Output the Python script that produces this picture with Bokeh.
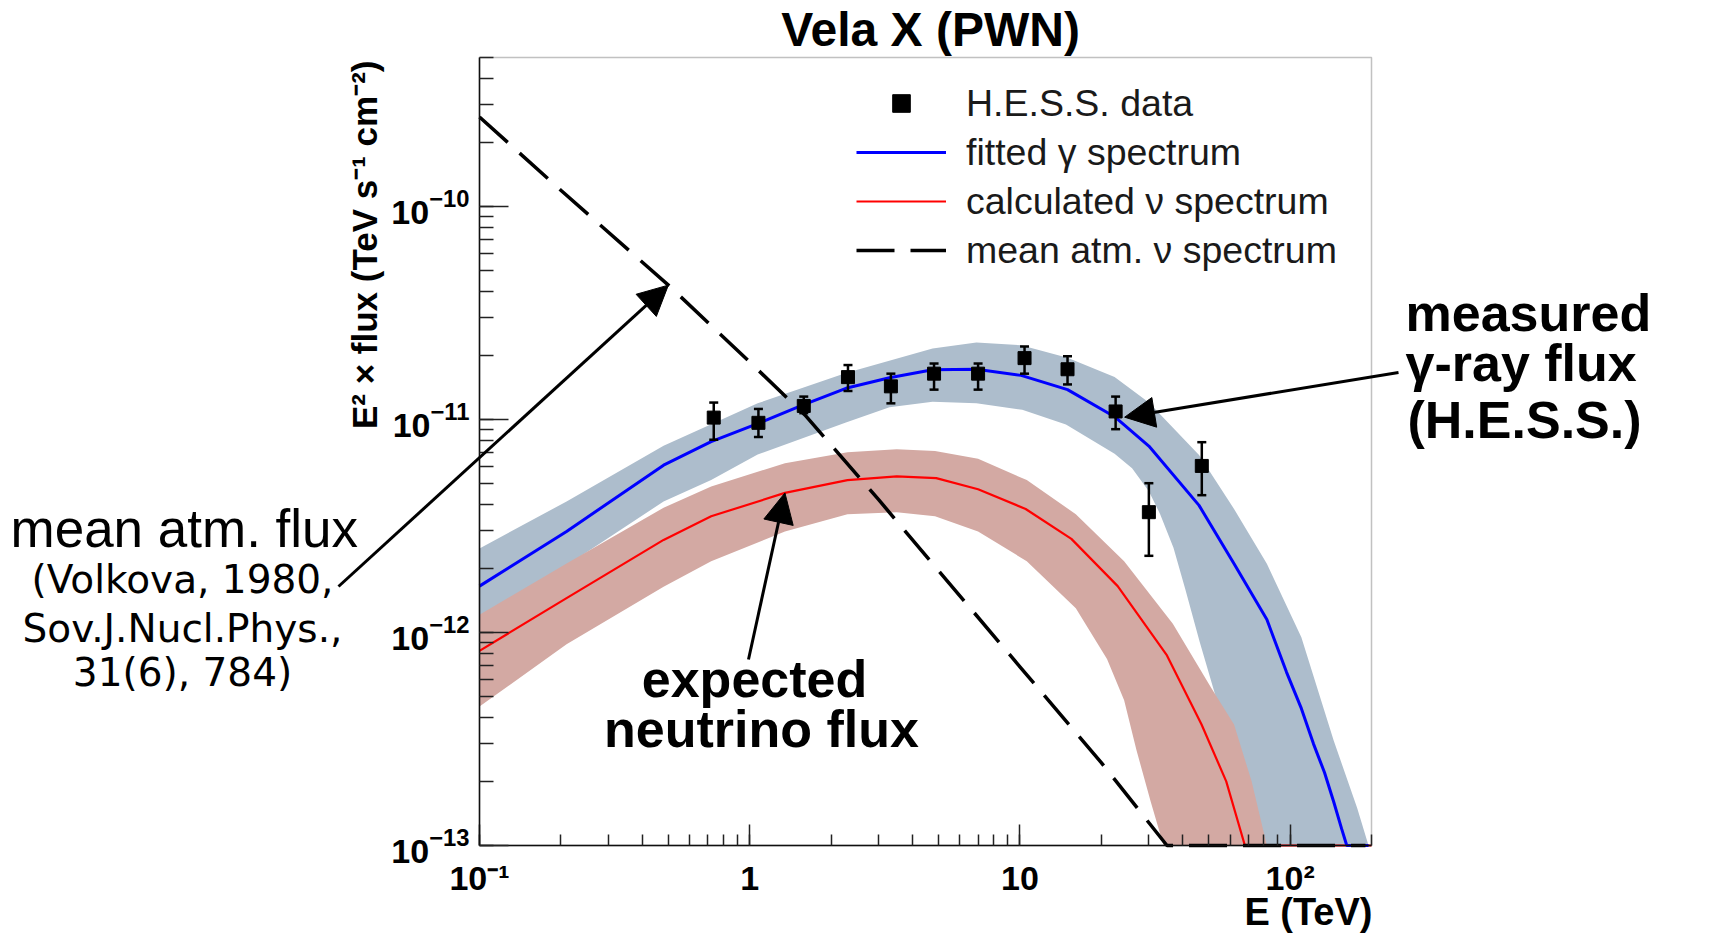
import numpy as np
from bokeh.plotting import figure
from bokeh.models import (Range1d, Label, Arrow, NormalHead, TeeHead, Whisker,
                          ColumnDataSource, Legend, LegendItem, BoxAnnotation)
from bokeh.embed import file_html
from bokeh.resources import INLINE

# ---------------- data ----------------
hess_E = [0.736, 1.077, 1.585, 2.31, 3.33, 4.81, 7.0, 10.4, 15.0, 22.6, 30.0, 47.1]
hess_F = [1.02e-11, 9.64e-12, 1.157e-11, 1.58e-11, 1.43e-11, 1.64e-11, 1.64e-11,
          1.94e-11, 1.72e-11, 1.09e-11, 3.67e-12, 6.05e-12]
hess_hi = [1.20e-11, 1.12e-11, 1.28e-11, 1.80e-11, 1.64e-11, 1.83e-11, 1.83e-11,
           2.20e-11, 1.98e-11, 1.28e-11, 5.02e-12, 7.82e-12]
hess_lo = [8.03e-12, 8.27e-12, 1.07e-11, 1.36e-11, 1.19e-11, 1.38e-11, 1.38e-11,
           1.64e-11, 1.46e-11, 9.0e-12, 2.29e-12, 4.41e-12]

gamma_E = [0.1, 0.21, 0.48, 0.72, 1.07, 1.56, 2.27, 3.29, 4.75, 6.9, 10.1, 15, 22.4,
           30, 46, 62, 82, 97, 110, 122, 134, 145, 155, 162, 195]
gamma_F = [1.65e-12, 2.98e-12, 6.1e-12, 7.87e-12, 9.55e-12, 1.164e-11, 1.40e-11,
           1.57e-11, 1.71e-11, 1.72e-11, 1.61e-11, 1.38e-11, 1.03e-11, 7.5e-12,
           3.95e-12, 2.10e-12, 1.15e-12, 6.5e-13, 4.4e-13, 3.0e-13, 2.2e-13, 1.6e-13,
           1.2e-13, 1.0e-13, 1.0e-13]

gband_up_E = [0.1, 0.21, 0.48, 1.07, 2.27, 4.75, 6.9, 10.1, 15, 22.4, 30, 46, 62, 82,
              110, 145, 177, 195]
gband_up_F = [2.48e-12, 4.12e-12, 7.52e-12, 1.19e-11, 1.65e-11, 2.15e-11, 2.3e-11,
              2.23e-11, 1.95e-11, 1.58e-11, 1.2e-11, 6.8e-12, 3.8e-12, 2.1e-12,
              9.5e-13, 3.1e-13, 1.5e-13, 1.0e-13]
gband_lo_E = [0.1, 0.21, 0.48, 0.72, 1.07, 2.27, 3.29, 4.75, 6.9, 10.2, 14.8, 22.4, 26,
              30, 33, 37, 40.9, 46.3, 56.5, 65, 74]
gband_lo_F = [1.18e-12, 2.06e-12, 4.12e-12, 5.19e-12, 6.84e-12, 9.68e-12, 1.14e-11,
              1.21e-11, 1.19e-11, 1.11e-11, 9.46e-12, 6.9e-12, 5.9e-12, 4.6e-12,
              3.6e-12, 2.5e-12, 1.6e-12, 9.0e-13, 3.8e-13, 2.0e-13, 1.0e-13]

nu_E = [0.1, 0.21, 0.48, 0.72, 1.35, 2.3, 3.5, 4.9, 7.0, 10.5, 15.5, 23, 35, 47, 58,
        68, 200]
nu_F = [8.2e-13, 1.45e-12, 2.72e-12, 3.51e-12, 4.52e-12, 5.19e-12, 5.4e-12, 5.3e-12,
        4.7e-12, 3.8e-12, 2.75e-12, 1.65e-12, 7.8e-13, 3.7e-13, 2.0e-13, 1.0e-13, 1.0e-13]

nuband_up_E = [0.1, 0.21, 0.48, 0.72, 1.35, 2.3, 3.5, 4.85, 7.0, 10.6, 16.1, 24.3,
               36.8, 51, 62, 72, 82]
nuband_up_F = [1.21e-12, 2.11e-12, 3.85e-12, 4.84e-12, 6.23e-12, 7.02e-12, 7.24e-12,
               7.11e-12, 6.53e-12, 5.19e-12, 3.59e-12, 2.16e-12, 1.1e-12, 5.5e-13,
               3.7e-13, 2.0e-13, 1.0e-13]
nuband_lo_E = [0.1, 0.21, 0.48, 0.72, 1.35, 2.3, 3.5, 4.85, 7.0, 10.6, 16.1, 21, 24.3,
               27, 30.5, 34]
nuband_lo_F = [4.49e-13, 8.8e-13, 1.64e-12, 2.16e-12, 2.98e-12, 3.59e-12, 3.67e-12,
               3.51e-12, 2.98e-12, 2.16e-12, 1.30e-12, 7.5e-13, 4.8e-13, 2.8e-13,
               1.6e-13, 1.0e-13]

atm_E = [0.1, 0.2, 0.5, 1.0, 1.6, 3.0, 5.0, 10, 20, 35, 190]
atm_F = [2.63e-10, 1.19e-10, 4.27e-11, 1.86e-11, 1.05e-11, 4.2e-12, 1.95e-12, 6.9e-13,
         2.45e-13, 1.0e-13, 1.0e-13]

x_tick_labels = {0.1: "10\u207b\u00b9", 1: "1", 10: "10", 100: "10\u00b2"}
legend_labels = ["H.E.S.S. data", "fitted \u03b3 spectrum",
                 "calculated \u03bd spectrum", "mean atm. \u03bd spectrum"]

# ---------------- layout ----------------
XLO, XHI = 0.1, 200.0              # axis extent (data)
YLO, YHI = 1e-13, 5e-10
W, H = 1729, 935
FX0, FX1 = 479.0, 1371.0           # axis box left / right (page px)
FY1, FY0 = 57.0, 845.0             # axis box top / bottom (page px)

DX = np.log10(XHI / XLO) / (FX1 - FX0)
DY = np.log10(YHI / YLO) / (FY0 - FY1)
x_start = 10 ** (np.log10(XLO) - FX0 * DX)
x_end = 10 ** (np.log10(XHI) + (W - FX1) * DX)
y_start = 10 ** (np.log10(YLO) - (H - FY0) * DY)
y_end = 10 ** (np.log10(YHI) + FY1 * DY)


def at(px, py):
    """page pixel -> data coordinates (annotation placement only)"""
    return (10 ** (np.log10(XLO) + (px - FX0) * DX),
            10 ** (np.log10(YLO) + (FY0 - py) * DY))


p = figure(width=W, height=H, x_axis_type="log", y_axis_type="log",
           x_range=Range1d(x_start, x_end), y_range=Range1d(y_start, y_end),
           output_backend="svg", toolbar_location=None, min_border=0)
p.xgrid.visible = False
p.ygrid.visible = False
p.outline_line_color = None
p.background_fill_color = "white"
p.border_fill_color = "white"

TICK_FONT = "Liberation Sans"
for ax, mj, mn in ((p.xaxis, 21, 11), (p.yaxis, 29, 14)):
    ax.axis_line_color = "black"
    ax.axis_line_width = 1.5
    ax.major_tick_in = mj
    ax.major_tick_out = 0
    ax.minor_tick_in = mn
    ax.minor_tick_out = 0
    ax.major_tick_line_width = 1.5
    ax.minor_tick_line_width = 1.5
    ax.major_tick_line_color = "#222222"
    ax.minor_tick_line_color = "#222222"
    ax.major_label_text_font = TICK_FONT
    ax.major_label_text_font_style = "bold"
    ax.major_label_text_font_size = "34px"
    ax.major_label_text_color = "black"
p.xaxis.fixed_location = YLO
p.xaxis.bounds = (XLO, XHI)
p.yaxis.fixed_location = XLO
p.yaxis.bounds = (YLO, YHI)
p.xaxis.major_label_standoff = 13
p.yaxis.major_label_standoff = 10
p.xaxis.major_label_overrides = x_tick_labels

# frame box (top / right sides)
p.add_layout(BoxAnnotation(left=XLO, right=XHI, bottom=YLO, top=YHI,
                           fill_alpha=0, line_color="#333333", line_width=1.5))

# bands
gx = list(gband_up_E) + list(gband_lo_E[::-1])
gy = list(gband_up_F) + list(gband_lo_F[::-1])
p.patch(gx, gy, fill_color="#adbdcc", line_color=None)
nx = list(nuband_up_E) + list(nuband_lo_E[::-1])
ny = list(nuband_up_F) + list(nuband_lo_F[::-1])
p.patch(nx, ny, fill_color="#d3a9a3", line_color=None)

# lines
r_nu = p.line(nu_E, nu_F, line_color="#ff0000", line_width=2.2)
r_gam = p.line(gamma_E, gamma_F, line_color="#0000ff", line_width=3)
r_atm = p.line(atm_E, atm_F, line_color="black", line_width=3.5, line_dash="38 16")

# H.E.S.S. points
src = ColumnDataSource(dict(E=hess_E, F=hess_F, hi=hess_hi, lo=hess_lo))
p.add_layout(Whisker(source=src, base="E", upper="hi", lower="lo", dimension="height",
                     line_color="black", line_width=2.5, level="overlay",
                     upper_head=TeeHead(size=9, line_color="black", line_width=2.5),
                     lower_head=TeeHead(size=9, line_color="black", line_width=2.5)))
r_hess = p.scatter("E", "F", source=src, marker="square", size=13,
                   fill_color="black", line_color="black")

# legend (position relative to the canvas-sized frame)
legend = Legend(items=[LegendItem(label=legend_labels[0], renderers=[r_hess]),
                       LegendItem(label=legend_labels[1], renderers=[r_gam]),
                       LegendItem(label=legend_labels[2], renderers=[r_nu]),
                       LegendItem(label=legend_labels[3], renderers=[r_atm])],
                location=(856, H - 272), orientation="vertical",
                glyph_width=90, glyph_height=44, label_height=44, spacing=5,
                label_standoff=20, padding=0, margin=0,
                label_text_font="Liberation Sans", label_text_font_size="37.5px",
                label_text_color="#1a1a1a",
                border_line_alpha=0, background_fill_alpha=0)
p.add_layout(legend, "center")

# ---------------- annotations ----------------
BASE_SHIFT = 0.36   # empirical: rendered baseline sits ~0.36 em below the anchor


def add_label(text, px, py, size, style="normal", align="left", font="Liberation Sans",
              angle=0.0, baseline="alphabetic"):
    if baseline == "alphabetic":
        py = py - BASE_SHIFT * size
    x, y = at(px, py)
    p.add_layout(Label(x=x, y=y, text=text, text_font=font, text_font_size=f"{size}px",
                       text_font_style=style, text_align=align, text_baseline=baseline,
                       text_color="black", angle=angle))


add_label("Vela X (PWN)", 930, 46, 48, "bold", "center")
add_label("E\u00b2 \u00d7 flux (TeV s\u207b\u00b9 cm\u207b\u00b2)", 364, 60, 35, "bold",
          "right", angle=np.pi / 2, baseline="middle")
add_label("E (TeV)", 1372, 925, 38, "bold", "right")

add_label("measured", 1405, 331, 52, "bold")
add_label("\u03b3-ray flux", 1405, 381, 52, "bold")
add_label("(H.E.S.S.)", 1407, 438, 52, "bold")

add_label("expected", 754, 697, 52, "bold", "center")
add_label("neutrino flux", 761, 747, 52, "bold", "center")

add_label("mean atm. flux", 10, 547, 53)
for t, yy in (("(Volkova, 1980,", 593), ("Sov.J.Nucl.Phys.,", 642), ("31(6), 784)", 686)):
    add_label(t, 182, yy, 39, "normal", "center", font="DejaVu Sans")


# arrows
def add_arrow(start_px, end_data):
    xs, ys = at(*start_px)
    p.add_layout(Arrow(end=NormalHead(size=30, fill_color="black", line_color="black"),
                       x_start=xs, y_start=ys, x_end=end_data[0], y_end=end_data[1],
                       line_color="black", line_width=3))


add_arrow((338, 586), (atm_E[2], atm_F[2]))
add_arrow((748, 659), (nu_E[4], nu_F[4]))
add_arrow((1398, 372), (hess_E[9] * 1.08, hess_F[9] * 0.94))

open("out.html", "w").write(file_html(p, INLINE))
